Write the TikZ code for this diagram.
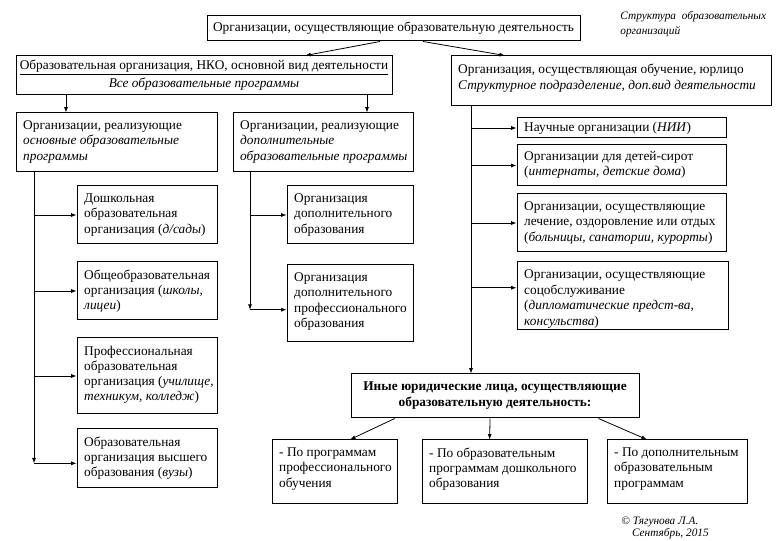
\documentclass[tikz,border=0pt]{standalone}
\usepackage{fontspec}
\setmainfont{Liberation Serif}
\usetikzlibrary{arrows.meta, fit, calc}

\begin{document}
\begin{tikzpicture}[
  x=0.75pt, y=-0.75pt,
  >={Latex[length=4pt,width=3pt]}, line width=0.6pt,
  box/.style  = {draw, rectangle, inner sep=0pt, line width=0.75pt},
  txt/.style  = {anchor=north west, align=left, inner xsep=5.5pt, inner ysep=6pt,
                 font=\fontsize{10}{11.4}\selectfont},
  ctxt/.style = {align=center, inner sep=0pt, font=\fontsize{10}{12}\selectfont},
  note/.style = {anchor=north west, align=left, inner sep=0pt,
                 font=\fontsize{8.5}{9}\selectfont\itshape},
]
  \useasboundingbox (0,0) rectangle (782,541);

  % top level
  \node[box, fit={(207,16) (580,41)}]   (top) {};
  \node[ctxt] (toptxt) at (top) {Организации, осуществляющие образовательную деятельность};

  \node[box, fit={(16,56) (392,95)}]    (lt)  {};
  \node[ctxt] (lttxt) at (lt) {\underline{Образовательная организация, НКО, основной вид деятельности}\\[1.5pt]
    \textit{Все образовательные программы}};

  \node[box, fit={(451,56) (771,106)}]  (rt)  {};
  \node[txt, font=\fontsize{10}{12.2}\selectfont] (rttxt) at (rt.north west)
    {Организация, осуществляющая обучение, юрлицо\\
    \textit{Структурное подразделение, доп.вид деятельности}};

  % left branch
  \node[box, fit={(16,113) (217,172)}]  (l1)  {};
  \node[txt] (l1txt) at (l1.north west) {Организации, реализующие\\
    \textit{основные образовательные}\\ \textit{программы}};
  \node[box, fit={(77,186) (217,244)}]  (d1)  {};
  \node[txt] (d1txt) at (d1.north west) {Дошкольная\\ образовательная\\ организация (\textit{д/сады})};
  \node[box, fit={(77,262) (217,320)}]  (d2)  {};
  \node[txt] (d2txt) at (d2.north west) {Общеобразовательная\\ организация (\textit{школы,}\\ \textit{лицеи})};
  \node[box, fit={(77,338) (217,414)}]  (d3)  {};
  \node[txt] (d3txt) at (d3.north west) {Профессиональная\\ образовательная\\
    организация (\textit{училище,}\\ \textit{техникум, колледж})};
  \node[box, fit={(77,429) (217,488)}]  (d4)  {};
  \node[txt] (d4txt) at (d4.north west) {Образовательная\\ организация высшего\\ образования (\textit{вузы})};

  % middle branch
  \node[box, fit={(233,113) (413,172)}] (l2)  {};
  \node[txt] (l2txt) at (l2.north west) {Организации, реализующие\\
    \textit{дополнительные}\\ \textit{образовательные программы}};
  \node[box, fit={(287,186) (413,244)}] (e1)  {};
  \node[txt] (e1txt) at (e1.north west) {Организация\\ дополнительного\\ образования};
  \node[box, fit={(287,265) (413,342)}] (e2)  {};
  \node[txt] (e2txt) at (e2.north west) {Организация\\ дополнительного\\ профессионального\\ образования};

  % right branch
  \node[box, fit={(517,118) (726,138)}] (r1)  {};
  \node[txt, anchor=west, inner ysep=0pt] (r1txt) at (r1.west) {Научные организации (\textit{НИИ})};
  \node[box, fit={(517,145) (726,186)}] (r2)  {};
  \node[txt, inner ysep=4.5pt] (r2txt) at (r2.north west) {Организации для детей-сирот\\ (\textit{интернаты, детские дома})};
  \node[box, fit={(517,194) (726,252)}] (r3)  {};
  \node[txt] (r3txt) at (r3.north west) {Организации, осуществляющие\\
    лечение, оздоровление или отдых\\ (\textit{больницы, санатории, курорты})};
  \node[box, fit={(517,262) (728,330)}] (r4)  {};
  \node[txt, font=\fontsize{10}{11.7}\selectfont] (r4txt) at (r4.north west)
    {Организации, осуществляющие\\ соцобслуживание\\
    (\textit{дипломатические предст-ва,}\\ \textit{консульства})};

  % other legal entities
  \node[box, fit={(351,374) (639,418)}] (oth) {};
  \node[ctxt, font=\fontsize{10}{12}\selectfont\bfseries] (othtxt) at (oth)
    {Иные юридические лица, осуществляющие\\ образовательную деятельность:};
  \node[box, fit={(272,440) (397,503)}] (b1)  {};
  \node[txt] (b1txt) at (b1.north west) {- По программам\\ профессионального\\ обучения};
  \node[box, fit={(422,440) (587,503)}] (b2)  {};
  \node[txt] (b2txt) at (b2.north west) {- По образовательным\\ программам дошкольного\\ образования};
  \node[box, fit={(607,440) (747,503)}] (b3)  {};
  \node[txt] (b3txt) at (b3.north west) {- По дополнительным\\ образовательным\\ программам};

  % notes
  \node[note, font=\fontsize{8.5}{11}\selectfont\itshape] (title) at (620,11)
    {Структура\ \ образовательных\\ организаций};
  \node[note] (sign)  at (621,517) {© Тягунова Л.А.\\ \hspace*{8pt}Сентябрь, 2015};

  % trunks and branch points
  \coordinate (ta) at (66,0);
  \coordinate (tb) at (367,0);
  \coordinate (tl) at (34,0);
  \coordinate (tm) at (250,0);
  \coordinate (tr) at (471,0);
  \coordinate (d4in) at ($(d4.north west)!0.58!(d4.south west)$);
  \coordinate (e2in) at ($(e2.north west)!0.58!(e2.south west)$);
  \coordinate (r4in) at ($(r4.north west)!0.38!(r4.south west)$);

  \draw[->] ($(top.south west)!0.464!(top.south east)$) -- ($(lt.north west)!0.769!(lt.north east)$);
  \draw[->] ($(top.south west)!0.579!(top.south east)$) -- ($(rt.north west)!0.169!(rt.north east)$);
  \draw[->] (lt.south -| ta) -- (l1.north -| ta);
  \draw[->] (lt.south -| tb) -- (l2.north -| tb);

  \draw[->] (l1.south -| tl) -- (tl |- d4in);
  \draw[->] (tl |- d1.west) -- (d1.west);
  \draw[->] (tl |- d2.west) -- (d2.west);
  \draw[->] (tl |- d3.west) -- (d3.west);
  \draw[->] (tl |- d4in) -- (d4in);

  \draw[->] (l2.south -| tm) -- (tm |- e2in);
  \draw[->] (tm |- e1.west) -- (e1.west);
  \draw[->] (tm |- e2in) -- (e2in);

  \draw[->] (rt.south -| tr) -- (oth.north -| tr);
  \draw[->] (tr |- r1.west) -- (r1.west);
  \draw[->] (tr |- r2.west) -- (r2.west);
  \draw[->] (tr |- r3.west) -- (r3.west);
  \draw[->] (tr |- r4in) -- (r4in);

  \draw[->] ($(oth.south west)!0.153!(oth.south east)$) -- ($(b1.north west)!0.624!(b1.north east)$);
  \draw[->] ($(oth.south west)!0.483!(oth.south east)$) -- ($(b2.north west)!0.41!(b2.north east)$);
  \draw[->] ($(oth.south west)!0.858!(oth.south east)$) -- ($(b3.north west)!0.286!(b3.north east)$);
\end{tikzpicture}
\end{document}
